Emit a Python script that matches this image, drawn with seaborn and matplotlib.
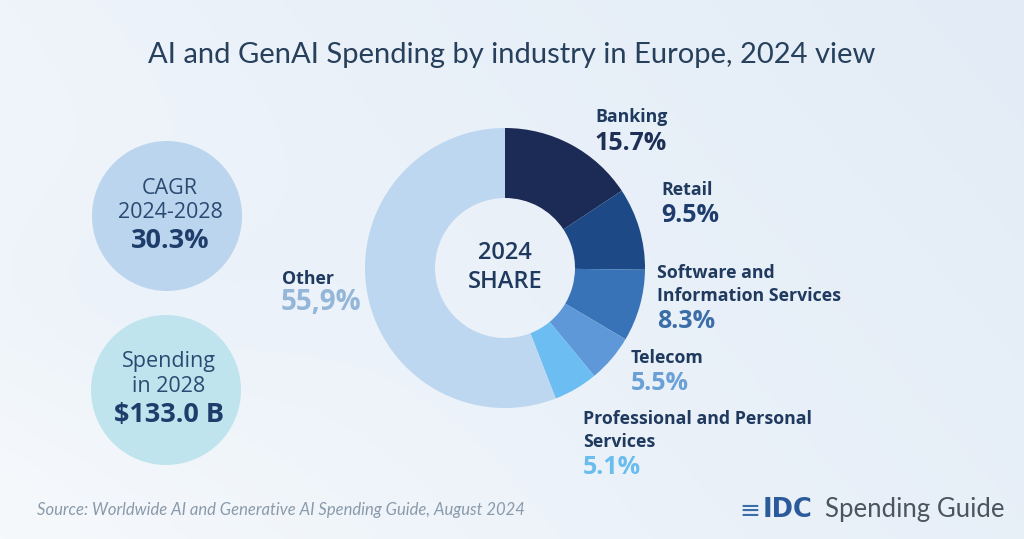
import numpy as np
import matplotlib
matplotlib.use("Agg")
import matplotlib.pyplot as plt
from matplotlib.patches import Circle
import seaborn as sns

# ---- data ----
industries = ["Banking", "Retail", "Software and\nInformation Services", "Telecom",
              "Professional and Personal\nServices", "Other"]
shares = [15.7, 9.5, 8.3, 5.5, 5.1, 55.9]
share_labels = ["15.7%", "9.5%", "8.3%", "5.5%", "5.1%", "55,9%"]
kpi_titles = ["CAGR\n2024-2028", "Spending\nin 2028"]
kpi_values = ["30.3%", "$133.0 B"]
title = "AI and GenAI Spending by industry in Europe, 2024 view"
center_text = "2024\nSHARE"
source = "Source: Worldwide AI and Generative AI Spending Guide, August 2024"

# ---- style ----
sns.set_theme(style="white")
plt.rcParams['font.family'] = ['Open Sans', 'DejaVu Sans']
seg_colors = ["#1c2b55", "#1d4a86", "#3873b7", "#5e98d8", "#6cbdf1", "#bcd7ef"]
pct_colors = ["#1e2f55", "#1e3c6e", "#3b6ea8", "#6aa0d6", "#6bbdee", "#94b6d8"]
name_color = "#1f3a5e"

W, H = 1024, 539
fig = plt.figure(figsize=(W / 100, H / 100), dpi=100)

# background gradient
bg = fig.add_axes([0, 0, 1, 1])
yy, xx = np.mgrid[0:1:200j, 0:1:400j]
grad = 0.55 * xx + 0.25 * (1 - yy) + 0.15 * np.exp(-((xx - 0.1) ** 2 + (yy - 0.55) ** 2) / 0.05)
cmap = matplotlib.colors.LinearSegmentedColormap.from_list("bg", ["#f6f9fc", "#eaf1f9", "#e3ecf6"])
bg.imshow(grad, cmap=cmap, aspect="auto", extent=[0, 1, 0, 1], origin="upper")
bg.set_axis_off()

# overlay axes in pixel coordinates
ov = fig.add_axes([0, 0, 1, 1])
ov.set_xlim(0, W)
ov.set_ylim(H, 0)
ov.set_axis_off()
ov.patch.set_alpha(0)

# donut
cx, cy, r = 505, 268, 140
dax = fig.add_axes([(cx - r) / W, (H - cy - r) / H, 2 * r / W, 2 * r / H])
dax.pie(shares, colors=seg_colors, startangle=90, counterclock=False,
        wedgeprops=dict(width=0.5, edgecolor="none"), radius=1)
dax.set_xlim(-1, 1)
dax.set_ylim(-1, 1)
dax.set_aspect("auto")
dax.set_axis_off()
c1, c2 = center_text.split("\n")
dax.text(0, 0.11, c1, ha="center", va="center", fontsize=17,
         fontweight="semibold", color=name_color)
dax.text(0, -0.10, c2, ha="center", va="center", fontsize=17,
         fontweight="semibold", color=name_color)

# title
ov.text(512, 55, title, ha="center", va="center", fontsize=21, color="#27405c",
        family=['Lato', 'DejaVu Sans'])

# segment labels
label_pos = [(596, 117), (662, 190), (658, 273), (632, 358), (584, 419), (283, 279)]
line_h = 23
for name, pct, (x, y), pc in zip(industries, share_labels, label_pos, pct_colors):
    lines = name.split("\n")
    for i, ln in enumerate(lines):
        ov.text(x - 1, y + i * line_h, ln, ha="left", va="center", fontsize=12.8,
                fontweight="bold", color=name_color)
    if name == "Other":
        ov.text(x - 2, y + line_h + 1, pct, ha="left", va="center",
                fontsize=20, fontweight="bold", color=pc)
    else:
        ov.text(x - 1, y + len(lines) * line_h + 3, pct, ha="left", va="center",
                fontsize=18, fontweight="bold", color=pc)

# KPI circles
kpi_centers = [(167, 216), (166, 390)]
kpi_colors = ["#bcd5ee", "#bfe4ed"]
for (kx, ky), col, t, v in zip(kpi_centers, kpi_colors, kpi_titles, kpi_values):
    ov.add_patch(Circle((kx, ky), 75, facecolor=col, edgecolor="none"))
    l1, l2 = t.split("\n")
    ov.text(kx + 3, ky - 28, l1, ha="center", va="center", fontsize=15.5, color="#2b4a72")
    ov.text(kx + 3, ky - 3, l2, ha="center", va="center", fontsize=15.5, color="#2b4a72")
    ov.text(kx + 3, ky + 25, v, ha="center", va="center", fontsize=19.5,
            fontweight="bold", color="#1f3d6b")

# footer
ov.text(37, 510, source, ha="left", va="center", fontsize=12, style="italic", color="#8a9aaa",
        family=['Lato', 'DejaVu Sans'])
ov.text(760, 511, "\u2261", ha="right", va="center", fontsize=18, color="#3a6ea8")
ov.text(763, 510, "IDC", ha="left", va="center", fontsize=18.5, fontweight="bold", color="#2a5a9a",
        family=['DejaVu Sans'])
ov.text(825, 510, "Spending Guide", ha="left", va="center", fontsize=18.5, color="#4a5560",
        family=['Lato', 'DejaVu Sans'])

fig.savefig("out.png", dpi=100)
